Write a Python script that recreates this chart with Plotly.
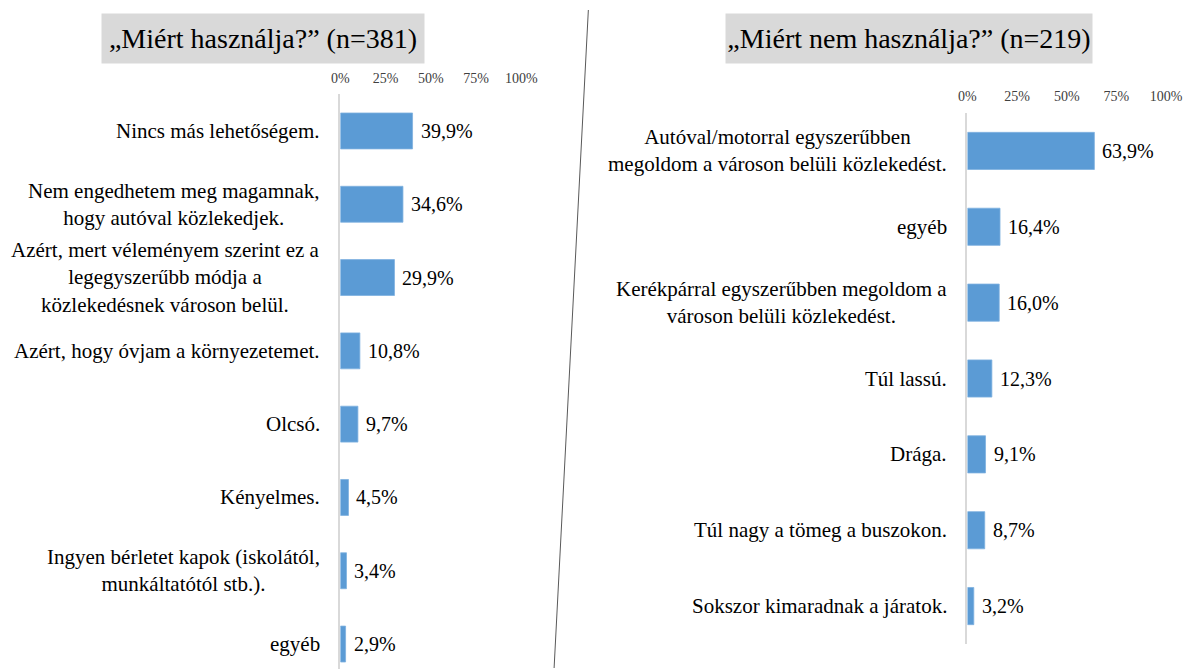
import plotly.graph_objects as go

# ---- data ----
left_title = "„Miért használja?” (n=381)"
left_labels = [
    "Nincs más lehetőségem.",
    "Nem engedhetem meg magamnak,<br>hogy autóval közlekedjek.",
    "Azért, mert véleményem szerint ez a<br>legegyszerűbb módja a<br>közlekedésnek városon belül.",
    "Azért, hogy óvjam a környezetemet.",
    "Olcsó.",
    "Kényelmes.",
    "Ingyen bérletet kapok (iskolától,<br>munkáltatótól stb.).",
    "egyéb",
]
left_values = [39.9, 34.6, 29.9, 10.8, 9.7, 4.5, 3.4, 2.9]

right_title = "„Miért nem használja?” (n=219)"
right_labels = [
    "Autóval/motorral egyszerűbben<br>megoldom a városon belüli közlekedést.",
    "egyéb",
    "Kerékpárral egyszerűbben megoldom a<br>városon belüli közlekedést.",
    "Túl lassú.",
    "Drága.",
    "Túl nagy a tömeg a buszokon.",
    "Sokszor kimaradnak a járatok.",
]
right_values = [63.9, 16.4, 16.0, 12.3, 9.1, 8.7, 3.2]

tick_vals = [0, 25, 50, 75, 100]
tick_text = ["0%", "25%", "50%", "75%", "100%"]

# ---- styling ----
W, H = 1200, 669
OFF = 8  # page body margin offset
FONT = "Liberation Serif"
BAR = "#5b9bd5"


def px_x(x):
    return (x - OFF) / W


def px_y(y):
    return 1 - (y - OFF) / H


def fmt(v):
    return f"{v:.1f}".replace(".", ",") + "%"


left_ids = [f"L{i}" for i in range(len(left_labels))]
right_ids = [f"R{i}" for i in range(len(right_labels))]

fig = go.Figure()
fig.add_trace(go.Bar(x=left_values, y=left_ids, orientation="h", marker_color=BAR,
                     marker_line=dict(color="#7fb1e0", width=0.8),
                     width=0.49, xaxis="x", yaxis="y", hoverinfo="skip"))
fig.add_trace(go.Bar(x=right_values, y=right_ids, orientation="h", marker_color=BAR,
                     marker_line=dict(color="#7fb1e0", width=0.8),
                     width=0.49, xaxis="x2", yaxis="y2", hoverinfo="skip"))

annotations = []
for xa, ya, ids, labels, values in (("x", "y", left_ids, left_labels, left_values),
                                    ("x2", "y2", right_ids, right_labels, right_values)):
    for cid, lab, v in zip(ids, labels, values):
        annotations.append(dict(xref=xa, yref=ya, x=0, y=cid, text=lab, showarrow=False,
                                xanchor="right", xshift=-18, align="center",
                                font=dict(family=FONT, size=21, color="#000000")))
        annotations.append(dict(xref=xa, yref=ya, x=v, y=cid, text=fmt(v), showarrow=False,
                                xanchor="left", xshift=6,
                                font=dict(family=FONT, size=20, color="#000000")))

# titles
annotations.append(dict(xref="paper", yref="paper", x=px_x(259), y=px_y(38.5), text=left_title,
                        showarrow=False, xanchor="center", yanchor="middle", width=320, height=47,
                        bgcolor="#d9d9d9", font=dict(family=FONT, size=28, color="#000000")))
annotations.append(dict(xref="paper", yref="paper", x=px_x(920), y=px_y(38.5), text=right_title,
                        showarrow=False, xanchor="center", yanchor="middle", width=364, height=47,
                        bgcolor="#d9d9d9", font=dict(family=FONT, size=28, color="#000000")))

axis_common = dict(range=[0, 100], side="top", tickvals=tick_vals, ticktext=tick_text,
                   showgrid=False, zeroline=False, showline=False, ticks="",
                   tickfont=dict(family=FONT, size=14, color="#404040"), fixedrange=True)

left_band = 73.3
left_top = 94.3
left_bottom_px = H + OFF
left_range_bottom = -0.5 + (left_bottom_px - left_top) / left_band

fig.update_layout(
    width=W, height=H,
    margin=dict(l=0, r=0, t=0, b=0),
    paper_bgcolor="white", plot_bgcolor="white",
    showlegend=False,
    xaxis=dict(domain=[px_x(338.5), px_x(523.5)], anchor="y", ticklabelstandoff=8, **axis_common),
    yaxis=dict(domain=[0, px_y(left_top)], anchor="x", range=[left_range_bottom, -0.5],
               categoryorder="array", categoryarray=left_ids, showticklabels=False,
               showgrid=False, zeroline=False, showline=True, linecolor="#d9d9d9", linewidth=1.5,
               ticks="", fixedrange=True),
    xaxis2=dict(domain=[px_x(979.5), px_x(1182.5)], anchor="y2", ticklabelstandoff=8, **axis_common),
    yaxis2=dict(domain=[px_y(644), px_y(113)], anchor="x2", range=[6.5, -0.5],
                categoryorder="array", categoryarray=right_ids, showticklabels=False,
                showgrid=False, zeroline=False, showline=True, linecolor="#d9d9d9", linewidth=1.5,
                ticks="", fixedrange=True),
    annotations=annotations,
    shapes=[dict(type="line", xref="paper", yref="paper", x0=px_x(592), y0=px_y(10),
                 x1=px_x(557), y1=px_y(668), line=dict(color="#595959", width=1))],
)

fig.write_html("out.html", config={"displayModeBar": False})
